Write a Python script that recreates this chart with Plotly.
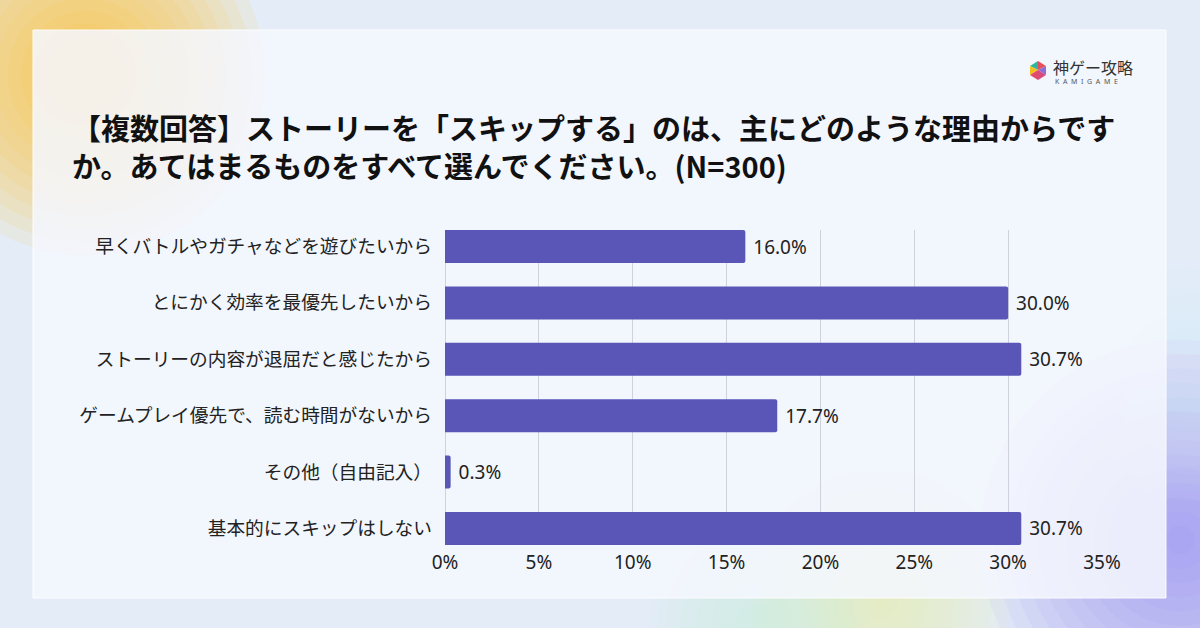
import plotly.graph_objects as go

categories = [
    "早くバトルやガチャなどを遊びたいから",
    "とにかく効率を最優先したいから",
    "ストーリーの内容が退屈だと感じたから",
    "ゲームプレイ優先で、読む時間がないから",
    "その他（自由記入）",
    "基本的にスキップはしない",
]
values = [16.0, 30.0, 30.7, 17.7, 0.3, 30.7]
value_labels = [f"\u00a0{v:.1f}%" for v in values]
tick_vals = [0, 5, 10, 15, 20, 25, 30, 35]
tick_text = [f"{t}%" for t in tick_vals]
title_line1 = "【複数回答】ストーリーを「スキップする」のは、主にどのような理由からです"
title_line2 = "か。あてはまるものをすべて選んでください。(N=300)"

W, H = 1200, 628
L, R = 445, 1102
T, B = 230, 545

def px(x):
    return (x - L) / (R - L)

def py(y):
    return (B - y) / (B - T)

CJK = "Noto Sans CJK JP"
NUM = "Noto Sans, Noto Sans CJK JP"

fig = go.Figure()
fig.add_trace(go.Bar(
    x=values, y=categories, orientation="h",
    marker=dict(color="#5956b8", line=dict(width=0), cornerradius=2),
    width=0.587,
    text=value_labels, textposition="outside",
    textfont=dict(family=NUM, size=19, color="#222222"),
    cliponaxis=False,
    hoverinfo="skip",
))

shapes = []
def blob(cx, cy, r, color, n=14, op=0.07):
    for i in range(n):
        rr = r * (1 - i / n)
        shapes.append(dict(type="circle", xref="paper", yref="paper",
                           x0=px(cx - rr), x1=px(cx + rr), y0=py(cy + rr), y1=py(cy - rr),
                           fillcolor=color, opacity=op, line=dict(width=0), layer="below"))

blob(85, 75, 180, "#ffc43d", op=0.10)
blob(1180, 540, 200, "#9a88f5", op=0.075)
blob(880, 600, 130, "#e8f5b0", op=0.08)
blob(760, 620, 110, "#c5f0e0", op=0.06)
blob(1190, 380, 120, "#cfe8f7", op=0.05)

# card
shapes.append(dict(type="rect", xref="paper", yref="paper",
                   x0=px(33), x1=px(1166), y0=py(598), y1=py(30),
                   fillcolor="rgba(245,247,254,0.86)", line=dict(color="rgba(255,255,255,0.9)", width=1),
                   layer="below"))

def tri(pts, color):
    p = "M " + " L ".join(f"{px(a)},{py(b)}" for a, b in pts) + " Z"
    shapes.append(dict(type="path", xref="paper", yref="paper", path=p,
                       fillcolor=color, line=dict(width=0), layer="above"))

tri([(1038, 61), (1030, 66), (1038, 70)], "#2bb6a0")
tri([(1038, 61), (1046, 66), (1038, 70)], "#e8505b")
tri([(1030, 66), (1030, 75), (1038, 70)], "#f4c020")
tri([(1046, 66), (1046, 75), (1038, 70)], "#8b6fd6")
tri([(1030, 75), (1038, 80), (1038, 70)], "#e24a6a")
tri([(1046, 75), (1038, 80), (1038, 70)], "#d84c7a")

annotations = [
    dict(text=title_line1 + "<br>" + title_line2, x=px(70), y=py(146), xref="paper", yref="paper",
         xanchor="left", yanchor="middle", align="left", showarrow=False,
         font=dict(family=CJK, size=29, color="#111111", weight="bold")),
    dict(text="神ゲー攻略", x=px(1051), y=py(67), xref="paper", yref="paper",
         xanchor="left", yanchor="middle", showarrow=False,
         font=dict(family=CJK, size=16, color="#333333")),
    dict(text="K  A  M  I  G  A  M  E", x=px(1053), y=py(82), xref="paper", yref="paper",
         xanchor="left", yanchor="middle", showarrow=False,
         font=dict(family=NUM, size=7, color="#555555")),
]

fig.update_layout(
    width=W, height=H,
    margin=dict(l=L, r=W - R, t=T, b=H - B, pad=0),
    paper_bgcolor="#e4ecf8",
    plot_bgcolor="rgba(0,0,0,0)",
    showlegend=False,
    shapes=shapes,
    annotations=annotations,
    xaxis=dict(range=[0, 35], tickvals=tick_vals, ticktext=tick_text,
               showgrid=True, gridcolor="#cfd2dc", gridwidth=1,
               zeroline=True, zerolinecolor="#cfd2dc", zerolinewidth=1,
               showline=False, ticks="", ticklabelstandoff=4,
               tickfont=dict(family=NUM, size=19, color="#222222"), fixedrange=True),
    yaxis=dict(categoryorder="array", categoryarray=categories,
               range=[5.2935, -0.2935], showgrid=False, zeroline=False,
               showline=False, ticks="", ticklabelstandoff=12,
               tickfont=dict(family=CJK, size=18.7, color="#222222"), fixedrange=True),
)

fig.write_html("out.html")
